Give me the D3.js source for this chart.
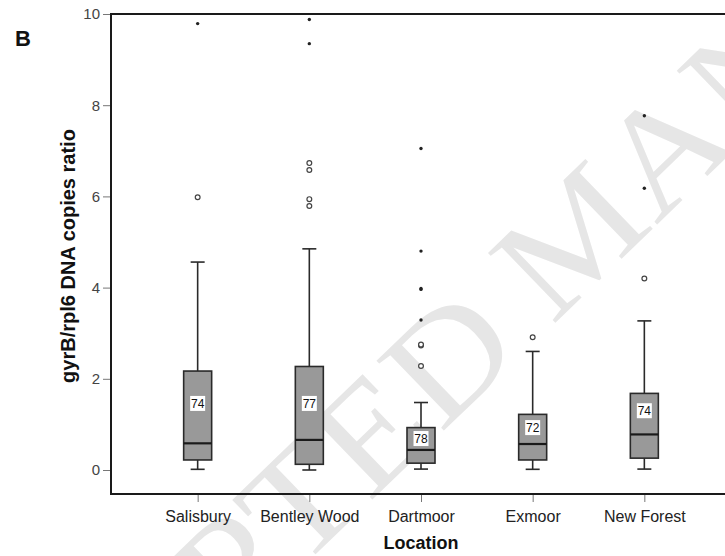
<!DOCTYPE html>
<html>
<head>
<meta charset="utf-8">
<script src="https://cdn.jsdelivr.net/npm/d3@7"></script>
<style>
  html, body { margin: 0; padding: 0; background: #fff; }
  svg { display: block; }
</style>
</head>
<body>
<div id="chart"></div>
<script>
// Boxplot – gyrB/rpl6 ratio by location
const locations = ["Salisbury", "Bentley Wood", "Dartmoor", "Exmoor", "New Forest"];
const counts    = [74, 77, 78, 72, 74];
const whiskLo   = [0.015, 0.0, 0.02, 0.015, 0.02];
const q1        = [0.22, 0.125, 0.15, 0.22, 0.26];
const medians   = [0.585, 0.66, 0.44, 0.57, 0.78];
const q3        = [2.17, 2.27, 0.93, 1.22, 1.68];
const whiskHi   = [4.56, 4.85, 1.48, 2.6, 3.27];
const labelPos  = [1.46, 1.46, 0.69, 0.93, 1.30];   // where the N label sits
const outliers  = [[5.98], [6.73, 6.58, 5.94, 5.79], [2.73, 2.75, 2.28], [2.91], [4.2]];
const extremes  = [[9.79], [9.88, 9.35], [7.05, 4.80, 3.96, 3.98, 3.29], [], [7.77, 6.18]];
const yTicks    = [0, 2, 4, 6, 8, 10];

const W = 725, H = 556;
const plot = { left: 111, right: 731, top: 14, bottom: 494 };

const svg = d3.select("#chart").append("svg")
  .attr("width", W).attr("height", H);

// watermark (behind everything)
const wm = svg.append("g")
  .attr("transform", "translate(552,326) rotate(-44) scale(1.1,1)")
  .attr("font-family", "'Liberation Serif', 'DejaVu Serif', serif")
  .attr("font-size", 148)
  .attr("fill", "#e6e6e6");
wm.append("text").attr("x", 0).text("MANUSCRIPT");
wm.append("text").attr("x", -34).attr("text-anchor", "end").text("ACCEPTED");

const x = d3.scalePoint()
  .domain(locations)
  .range([plot.left, plot.right])
  .padding(0.776);

const y = d3.scaleLinear()
  .domain([0, 10])
  .range([470, plot.top]);

const font = "'Liberation Sans', Arial, sans-serif";

// Y axis
const gy = svg.append("g")
  .attr("transform", `translate(${plot.left},0)`)
  .call(d3.axisLeft(y).tickValues(yTicks).tickSize(8).tickPadding(3));
gy.select(".domain").remove();
gy.selectAll(".tick line").attr("stroke", "#777").attr("stroke-width", 1);
gy.selectAll(".tick text")
  .attr("font-family", font).attr("font-size", 15).attr("fill", "#444");

// X axis
const gx = svg.append("g")
  .attr("transform", `translate(0,${plot.bottom})`)
  .call(d3.axisBottom(x).tickSize(8).tickPadding(9));
gx.select(".domain").remove();
gx.selectAll(".tick line").attr("stroke", "#777").attr("stroke-width", 1);
gx.selectAll(".tick text")
  .attr("font-family", font).attr("font-size", 16).attr("fill", "#222");

// frame
svg.append("path")
  .attr("d", `M${plot.right},${plot.top}H${plot.left}V${plot.bottom}H${plot.right}`)
  .attr("fill", "none").attr("stroke", "#1a1a1a").attr("stroke-width", 2);

// boxes
const data = locations.map((loc, i) => ({
  loc, n: counts[i], lo: whiskLo[i], q1: q1[i], med: medians[i], q3: q3[i],
  hi: whiskHi[i], lab: labelPos[i], out: outliers[i], ext: extremes[i]
}));

const bw = 28, cap = 14;
const g = svg.append("g").attr("stroke", "#2a2a2a").attr("stroke-width", 1.6);

const box = g.selectAll("g.box").data(data).join("g")
  .attr("class", "box")
  .attr("transform", d => `translate(${x(d.loc)},0)`);

// whiskers
box.append("line").attr("x1", 0).attr("x2", 0).attr("y1", d => y(d.q3)).attr("y2", d => y(d.hi));
box.append("line").attr("x1", 0).attr("x2", 0).attr("y1", d => y(d.q1)).attr("y2", d => y(d.lo));
box.append("line").attr("x1", -cap / 2).attr("x2", cap / 2).attr("y1", d => y(d.hi)).attr("y2", d => y(d.hi));
box.append("line").attr("x1", -cap / 2).attr("x2", cap / 2).attr("y1", d => y(d.lo)).attr("y2", d => y(d.lo));

box.append("rect")
  .attr("x", -bw / 2).attr("width", bw)
  .attr("y", d => y(d.q3))
  .attr("height", d => y(d.q1) - y(d.q3))
  .attr("fill", "#999");

box.append("line")
  .attr("x1", -bw / 2).attr("x2", bw / 2)
  .attr("y1", d => y(d.med)).attr("y2", d => y(d.med))
  .attr("stroke", "#1a1a1a").attr("stroke-width", 2.2);

// N labels
box.append("rect")
  .attr("x", -7.5).attr("width", 15)
  .attr("y", d => y(d.lab) - 7.5).attr("height", 15)
  .attr("fill", "#fff").attr("stroke", "none");
box.append("text")
  .attr("y", d => y(d.lab))
  .attr("dy", "0.36em")
  .attr("text-anchor", "middle")
  .attr("font-family", font).attr("font-size", 12)
  .attr("fill", "#111").attr("stroke", "none")
  .text(d => d.n);

// outliers (open circles) and extremes (dots)
box.selectAll("circle.out").data(d => d.out).join("circle")
  .attr("class", "out")
  .attr("cy", v => y(v)).attr("r", 2.4)
  .attr("fill", "#fff").attr("stroke", "#444").attr("stroke-width", 1.2);
box.selectAll("circle.ext").data(d => d.ext).join("circle")
  .attr("class", "ext")
  .attr("cy", v => y(v)).attr("r", 1.7)
  .attr("fill", "#222").attr("stroke", "none");

// axis titles
svg.append("text")
  .attr("transform", `translate(75,${(y(0) + y(10)) / 2 + 14}) rotate(-90)`)
  .attr("text-anchor", "middle")
  .attr("font-family", font).attr("font-size", 20).attr("font-weight", "bold")
  .attr("fill", "#111")
  .text("gyrB/rpl6 DNA copies ratio");

svg.append("text")
  .attr("x", x("Dartmoor")).attr("y", 549)
  .attr("text-anchor", "middle")
  .attr("font-family", font).attr("font-size", 18).attr("font-weight", "bold")
  .attr("fill", "#111")
  .text("Location");

svg.append("text")
  .attr("x", 15).attr("y", 46)
  .attr("font-family", font).attr("font-size", 22).attr("font-weight", "bold")
  .attr("fill", "#111")
  .text("B");
</script>
</body>
</html>
